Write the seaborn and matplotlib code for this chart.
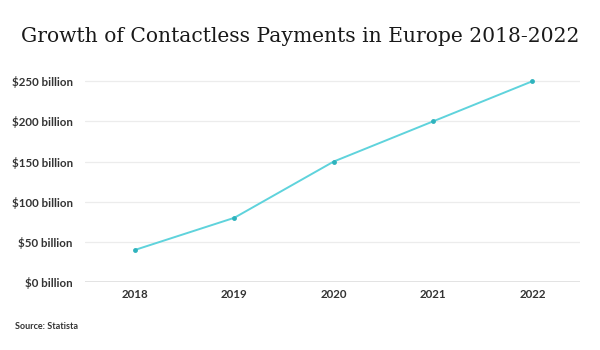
import pandas as pd
import matplotlib.pyplot as plt
import seaborn as sns

# ---------------------------------
# Data
# ---------------------------------

years = [2018, 2019, 2020, 2021, 2022]
payments_billion = [40, 80, 150, 200, 250]
y_ticks = [0, 50, 100, 150, 200, 250]

df = pd.DataFrame({"year": years, "value": payments_billion})

# ---------------------------------
# Plot
# ---------------------------------

sns.set_style("white")
plt.rcParams["font.family"] = ["Lato", "DejaVu Sans"]

fig = plt.figure(figsize=(6, 3.5), dpi=100)
ax = fig.add_axes([0.142, 0.194, 0.825, 0.597])

sns.lineplot(
    data=df,
    x="year",
    y="value",
    ax=ax,
    color="#5fd3dc",
    linewidth=1.4,
    marker="o",
    markersize=3.5,
    markerfacecolor="#2fb3bd",
    markeredgewidth=0,
)

ax.set_xlim(2017.5, 2022.48)
ax.set_ylim(0, 260)
ax.set_xticks(years)
ax.set_xticklabels([str(y) for y in years])
ax.set_yticks(y_ticks)
ax.set_yticklabels([f"${v} billion" for v in y_ticks])

ax.grid(axis="y", color="#ececec", linewidth=0.9)
ax.grid(axis="x", visible=False)
ax.axhline(0, color="#dddddd", linewidth=1.2, zorder=0)
sns.despine(ax=ax, left=True, bottom=True)

ax.tick_params(axis="both", length=0, labelsize=8.3, labelcolor="#333333")
ax.tick_params(axis="y", pad=9)
ax.tick_params(axis="x", pad=5)
for lbl in ax.get_xticklabels() + ax.get_yticklabels():
    lbl.set_fontweight("bold")

ax.set_xlabel("")
ax.set_ylabel("")

# ---------------------------------
# Title and Source
# ---------------------------------

fig.text(
    0.5, 0.895,
    "Growth of Contactless Payments in Europe 2018-2022",
    ha="center", va="center",
    fontsize=14.6, color="#1a1a1a",
    family=["DejaVu Serif"],
)

fig.text(
    0.025, 0.068,
    "Source: Statista",
    ha="left", va="center",
    fontsize=6.5, fontweight="bold", color="#333333",
)

fig.savefig("out.png", dpi=100, facecolor="white")
